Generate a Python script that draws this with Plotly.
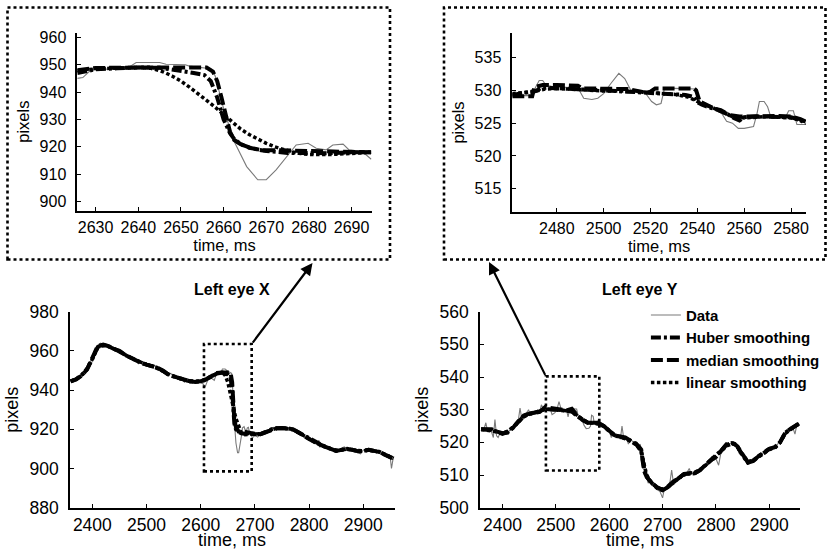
import plotly.graph_objects as go

# ---------------- data ----------------
# Left eye X, full record: raw data (time ms, pixels)
data_x = [(2360,944.0),(2365,945.0),(2370,945.5),(2375,946.5),(2380,948.0),(2385,949.0),(2390,951.0),
          (2395,953.0),(2400,957.0),(2405,960.0),(2410,963.0),(2415,964.0),(2420,963.0),(2425,963.5),
          (2430,962.0),(2435,962.0),(2440,961.5),(2445,960.0),(2450,960.5),(2455,958.5),(2460,958.0),
          (2465,957.0),(2470,956.5),(2475,955.0),(2480,955.5),(2485,953.5),(2490,954.5),(2495,953.0),
          (2500,952.5),(2505,953.5),(2510,952.0),(2515,952.5),(2520,951.0),(2525,951.5),(2530,949.5),
          (2535,950.0),(2540,948.0),(2545,948.5),(2550,946.5),(2555,947.5),(2560,945.5),(2565,946.5),
          (2570,944.0),(2575,945.0),(2580,943.5),(2585,944.5),(2590,943.8),(2595,944.8),(2600,944.0),
          (2605,943.0),(2608,941.5),(2612,945.0),(2615,946.5),(2620,946.0),(2625,945.0),(2628,947.5),
          (2630,948.3),(2635,948.5),(2638,949.3),(2640,950.8),(2645,950.8),(2648,950.0),(2651,949.5),
          (2655,949.0),(2657,948.5),(2658,946.0),(2660,934.0),(2662,924.0),(2665,913.0),(2667,909.5),
          (2668,908.0),(2670,908.0),(2672,911.0),(2675,916.4),(2677,920.7),(2680,921.3),(2682,919.5),
          (2684,918.9),(2686,920.7),(2688,921.0),(2689.5,918.9),(2692.5,918.3),(2695,915.5),(2700,917.0),
          (2705,916.0),(2710,917.5),(2715,918.0),(2720,919.0),(2725,919.5),(2730,920.5),(2735,921.0),
          (2740,920.0),(2745,921.0),(2750,920.5),(2755,920.0),(2760,921.0),(2765,920.0),(2770,919.5),
          (2775,919.0),(2780,918.0),(2785,917.0),(2790,916.5),(2795,915.0),(2800,915.5),(2805,914.0),
          (2810,913.0),(2815,912.0),(2818,914.5),(2820,911.0),(2825,911.5),(2830,910.5),(2835,911.0),
          (2840,910.0),(2845,909.5),(2850,908.5),(2855,909.5),(2860,910.5),(2865,911.0),(2870,910.0),
          (2875,909.0),(2880,910.5),(2885,909.0),(2890,908.0),(2895,907.5),(2900,909.5),(2905,909.0),
          (2910,910.0),(2915,909.0),(2920,909.5),(2925,908.5),(2930,908.0),(2935,907.5),(2940,906.5),
          (2945,906.0),(2950,905.0),(2952,900.0),(2955,905.0)]

# Left eye X, full record: smoothed curves on a common time grid
time_x = [2360,2370,2380,2390,2400,2405,2410,2420,2430,2440,
          2450,2460,2470,2480,2490,2500,2510,2520,2530,2540,
          2550,2560,2570,2580,2590,2600,2610,2620,2630,2640,
          2645,2650,2655,2658,2660,2662,2665,2670,2675,2680,
          2690,2700,2710,2720,2730,2740,2750,2760,2770,2780,
          2790,2800,2810,2820,2830,2840,2850,2860,2870,2880,
          2890,2900,2910,2920,2930,2940,2950,2956]
huber_x = [944.5,945.5,947.5,950.5,956.0,959.5,962.0,963.0,962.3,961.0,
           959.8,958.0,956.5,955.0,954.0,953.0,952.3,951.3,949.8,948.0,
           947.0,946.0,945.0,944.5,944.3,944.5,945.5,947.0,948.5,949.0,
           948.8,948.0,946.5,940.0,932.0,923.0,920.0,918.5,918.0,917.7,
           918.0,917.5,917.5,918.5,920.0,920.5,920.7,920.5,920.0,918.5,
           916.5,915.0,913.5,912.0,911.0,910.0,909.0,909.5,910.0,909.5,
           908.8,909.0,909.5,909.0,908.5,907.0,906.0,905.0]
median_x = [944.5,945.5,947.3,950.5,956.5,959.5,962.5,963.2,962.5,961.0,
            960.0,958.0,956.5,955.0,954.0,953.0,952.5,951.5,950.0,948.0,
            947.0,946.0,945.0,944.5,944.2,944.5,945.5,947.0,948.8,949.0,
            949.0,949.0,949.0,944.0,934.0,925.0,921.0,918.8,918.7,918.8,
            918.3,917.5,917.5,918.5,920.0,920.5,920.7,920.5,920.0,918.5,
            916.5,915.0,913.5,912.0,911.0,910.0,909.0,909.5,910.0,909.5,
            908.8,909.0,909.5,909.0,908.5,907.0,906.0,905.0]
linear_x = [944.6,945.6,947.6,951.0,955.8,959.0,961.6,962.7,962.2,961.0,
            959.7,958.1,956.6,955.2,954.0,953.1,952.3,951.2,949.8,948.2,
            947.0,946.0,945.1,944.6,944.4,944.6,945.6,947.1,948.5,949.0,
            947.5,944.0,938.5,934.5,931.8,929.0,925.5,921.3,918.2,917.2,
            917.6,917.6,917.8,918.7,919.9,920.5,920.6,920.4,919.8,918.4,
            916.6,915.0,913.5,912.1,911.0,910.0,909.3,909.5,909.8,909.4,
            909.0,909.0,909.3,909.0,908.4,907.2,906.0,905.2]

# Left eye X, zoomed window 2626-2695 ms
zoom_data_x = [(2625.7,945.0),(2627,945.3),(2628.5,947.5),(2630,948.3),(2635,948.5),(2638,949.3),
               (2639.5,950.8),(2645,950.8),(2646.5,950.2),(2651,950.0),(2652,949.5),(2655,949.0),
               (2657,948.5),(2658,946.0),(2660,934.0),(2662.3,922.5),(2665.4,912.8),(2668,908.0),
               (2670,908.0),(2672.3,911.6),(2674.7,916.4),(2677,920.7),(2679.8,921.3),(2681.7,919.5),
               (2684,918.9),(2685.6,920.7),(2688,921.0),(2689.4,918.9),(2692.5,918.3),(2694.6,915.5)]
zoom_huber_x = [(2625.7,947.0),(2628,947.8),(2630,948.3),(2635,948.7),(2640,949.0),(2645,948.9),
                (2648,948.3),(2650,947.8),(2653,947.0),(2655.5,946.2),(2657,944.0),(2658.5,938.0),
                (2660,930.0),(2661.5,925.0),(2662.5,922.8),(2664,921.0),(2666,919.8),(2668,919.0),
                (2670,918.5),(2675,917.8),(2680,917.6),(2685,917.7),(2690,918.0),(2694.6,918.0)]
zoom_median_x = [(2625.7,948.0),(2628,948.3),(2630,948.8),(2640,949.0),(2650,949.0),(2656,949.0),
                 (2657.5,947.5),(2658.5,944.0),(2659.5,938.0),(2660.5,931.0),(2661.5,925.5),
                 (2662.5,922.5),(2664,921.0),(2666,919.7),(2669,918.8),(2672,918.8),(2675,918.7),
                 (2680,918.8),(2685,918.6),(2690,918.3),(2694.6,918.0)]
zoom_linear_x = [(2625.7,947.8),(2630,948.5),(2635,948.8),(2640,949.0),(2643,948.7),(2646,947.3),
                 (2648,945.8),(2650,944.0),(2652,941.8),(2654,939.5),(2656,937.0),(2658,934.5),
                 (2660,931.8),(2662,929.0),(2664,926.5),(2666,924.5),(2668,922.8),(2670,921.3),
                 (2672,920.0),(2674,919.0),(2676,918.2),(2678,917.6),(2680,917.2),(2685,917.2),
                 (2690,917.6),(2694.6,918.0)]

# Left eye Y, full record: raw data
data_y = [(2360,524.0),(2365,523.8),(2369,526.0),(2372,523.5),(2376,524.2),(2380,523.0),(2383,521.5),
          (2386,527.0),(2389,522.0),(2392,521.5),(2396,523.0),(2400,522.5),(2405,523.5),(2410,522.8),
          (2415,524.0),(2420,524.8),(2425,525.5),(2430,527.0),(2433,530.5),(2436,527.5),(2440,528.5),
          (2445,529.0),(2449,530.0),(2452,528.5),(2457,529.5),(2462,529.0),(2466,530.0),(2470,529.5),
          (2473,531.5),(2476,530.5),(2480,530.5),(2485,530.5),(2490,530.0),(2493,528.5),(2498,529.0),
          (2502,530.0),(2506,532.5),(2510,530.2),(2515,530.0),(2520,530.0),(2523,527.8),(2526,530.3),
          (2530,530.3),(2535,530.3),(2539,530.2),(2542,528.0),(2546,527.5),(2550,526.5),(2553,525.2),
          (2557,524.2),(2562,524.3),(2565,525.0),(2567,528.3),(2570,528.0),(2572,525.8),(2577,525.8),
          (2580,527.0),(2582,524.8),(2586,524.8),(2590,525.0),(2595,524.5),(2600,523.5),(2604,521.5),
          (2608,522.5),(2612,521.5),(2617,522.0),(2621,521.0),(2624,525.0),(2627,521.5),(2632,521.5),
          (2636,519.5),(2640,521.0),(2645,520.0),(2650,519.5),(2655,518.0),(2658,519.5),(2661,516.5),
          (2664,513.5),(2667,510.0),(2670,509.5),(2673,507.5),(2677,508.5),(2680,507.0),(2685,506.5),
          (2690,505.5),(2695,505.0),(2700,503.0),(2703,505.5),(2707,506.0),(2711,507.0),(2714,508.0),
          (2717,511.5),(2720,508.0),(2725,508.5),(2730,509.5),(2735,509.0),(2740,510.0),(2745,510.5),
          (2750,512.0),(2753,510.5),(2758,510.5),(2763,510.5),(2768,511.0),(2773,511.5),(2778,512.5),
          (2783,513.0),(2788,514.0),(2792,515.7),(2796,514.5),(2800,515.0),(2805,513.0),(2809,516.5),
          (2814,517.5),(2818,519.0),(2822,519.5),(2826,519.5),(2830,519.8),(2836,519.5),(2840,518.0),
          (2844,516.5),(2848,517.0),(2852,515.5),(2856,514.0),(2860,513.5),(2865,514.0),(2870,514.5),
          (2875,515.0),(2880,516.0),(2885,516.5),(2890,517.0),(2895,517.5),(2900,518.0),(2905,518.3),
          (2910,518.2),(2915,519.5),(2920,520.5),(2925,521.5),(2930,523.0),(2935,523.5),(2940,524.5),
          (2945,524.0),(2948,522.5),(2951,525.0),(2955,525.8)]

# Left eye Y, full record: smoothed curves on a common time grid
time_y = [2360,2370,2380,2390,2400,2410,2420,2430,2440,2450,
          2460,2470,2480,2490,2500,2510,2520,2530,2540,2550,
          2560,2570,2580,2590,2600,2610,2620,2630,2640,2650,
          2655,2660,2663,2666,2670,2675,2680,2690,2700,2710,
          2720,2730,2740,2750,2760,2770,2780,2790,2800,2810,
          2820,2830,2835,2840,2850,2860,2870,2880,2890,2900,
          2910,2920,2930,2940,2950,2956]
huber_y = [524.0,524.0,523.8,523.3,522.6,523.2,524.5,526.3,528.0,528.7,
           529.0,529.5,530.2,530.2,530.0,529.8,529.7,529.5,528.0,527.0,
           526.0,526.0,525.8,525.0,523.5,522.0,521.8,521.3,520.5,519.5,
           518.5,517.5,514.5,511.5,509.5,508.3,507.5,506.0,505.3,506.3,
           507.8,509.0,510.3,510.5,510.5,511.5,513.0,514.3,515.8,517.5,
           519.3,519.8,519.5,518.8,516.0,513.8,514.3,515.8,516.8,518.0,
           518.3,520.0,523.0,524.2,525.3,525.8]
median_y = [524.0,524.0,524.0,523.3,522.8,523.0,524.5,526.5,528.2,528.8,
            529.0,529.3,530.8,530.5,530.3,530.2,529.8,530.3,528.3,526.8,
            526.0,526.0,526.0,525.0,523.5,522.2,521.8,521.5,520.5,519.7,
            518.8,517.8,514.0,511.0,509.5,508.5,507.5,506.2,505.5,506.5,
            508.0,509.0,510.3,510.5,510.5,511.5,513.0,514.5,515.5,517.5,
            519.5,519.8,519.5,518.8,516.0,513.8,514.5,515.8,517.0,518.0,
            518.5,520.0,523.0,524.2,525.3,525.8]
linear_y = [524.0,523.8,523.6,523.2,522.8,523.4,524.7,526.3,527.8,528.6,
            529.1,529.6,530.1,530.1,530.0,529.9,529.7,529.4,528.2,526.9,
            526.0,525.9,525.6,524.9,523.6,522.3,521.8,521.2,520.4,519.3,
            518.4,517.0,514.8,512.3,510.2,508.6,507.6,506.2,505.5,506.2,
            507.7,509.0,510.0,510.6,510.8,511.6,512.9,514.3,515.7,517.3,
            518.9,519.5,519.3,518.6,516.2,514.2,514.4,515.6,516.8,517.8,
            518.5,520.0,522.7,524.1,525.2,525.7]

# Left eye Y, zoomed window 2461-2586 ms
zoom_data_y = [(2461,529.2),(2469.3,529.2),(2471,530.5),(2472.5,531.5),(2474,531.5),(2475.5,530.7),
               (2480,530.5),(2485,530.5),(2489,530.4),(2491.5,528.8),(2495,528.6),(2497.5,528.8),
               (2500,529.5),(2503,531.0),(2506.5,532.6),(2509,531.8),(2511.5,530.1),(2515,530.0),
               (2518,529.5),(2520.5,528.3),(2522.5,527.8),(2524.5,528.0),(2526,530.3),(2530,530.3),
               (2535,530.3),(2539.5,530.2),(2541,528.3),(2545,527.5),(2549.5,527.0),(2552.5,525.3),
               (2555,525.0),(2557.5,524.2),(2560,524.2),(2564,524.5),(2565.5,526.5),(2566.5,528.3),
               (2568.5,528.3),(2570,527.5),(2571.5,525.8),(2575,525.8),(2577.5,525.8),(2579,526.9),
               (2581,526.9),(2582.5,524.8),(2586.4,524.8)]
zoom_huber_y = [(2461,529.3),(2465,529.5),(2469,529.8),(2471,529.9),(2473,530.3),(2476,530.4),
                (2480,530.3),(2490,530.2),(2500,530.0),(2510,529.8),(2520,529.6),(2530,529.5),
                (2535,529.3),(2538.5,529.0),(2540,528.2),(2542,527.8),(2546,527.3),(2550,527.0),
                (2553,526.3),(2556,525.7),(2558,525.4),(2560,525.9),(2565,526.0),(2570,526.0),
                (2575,526.0),(2580,525.9),(2583,525.6),(2586.4,525.0)]
zoom_median_y = [(2461,529.1),(2469.5,529.1),(2470.5,530.5),(2474,530.8),(2480,530.8),(2489,530.7),
                 (2491,530.3),(2500,530.3),(2510,530.2),(2516,529.8),(2518,529.6),(2520,529.8),
                 (2522,530.3),(2530,530.3),(2538.5,530.3),(2539.5,530.0),(2541,528.3),(2545,527.6),
                 (2550,526.8),(2554,526.2),(2558,526.0),(2565,526.1),(2575,526.1),(2580,526.0),
                 (2584,525.6),(2586.4,525.2)]
zoom_linear_y = [(2461,529.5),(2470,529.8),(2475,530.2),(2480,530.3),(2490,530.1),(2500,529.9),
                 (2510,529.9),(2520,529.7),(2530,529.4),(2536,529.0),(2540,528.3),(2545,527.6),
                 (2550,526.8),(2555,526.0),(2560,525.8),(2570,526.0),(2580,525.8),(2586.4,525.2)]

# ticks / labels
ticks_tl_x = [2630, 2640, 2650, 2660, 2670, 2680, 2690]
ticks_tl_y = [900, 910, 920, 930, 940, 950, 960]
ticks_tr_x = [2480, 2500, 2520, 2540, 2560, 2580]
ticks_tr_y = [515, 520, 525, 530, 535]
ticks_bl_x = [2400, 2500, 2600, 2700, 2800, 2900]
ticks_bl_y = [880, 900, 920, 940, 960, 980]
ticks_br_x = [2400, 2500, 2600, 2700, 2800, 2900]
ticks_br_y = [500, 510, 520, 530, 540, 550, 560]
series_names = ["Data", "Huber smoothing", "median smoothing", "linear smoothing"]
panel_titles = ["Left eye X", "Left eye Y"]
x_title = "time, ms"
y_title = "pixels"
# zoom windows marked on the full records: (x0, x1, y0, y1)
window_x = (2606, 2694, 898.5, 963.5)
window_y = (2481.5, 2581.5, 511.4, 540.2)

# ---------------- layout / styling ----------------
W, H = 830, 552
FONT = "Liberation Sans, Arial, Helvetica, sans-serif"

# "xtitle": True -> x title drawn by the axis; otherwise placed as free text at the page bottom
PANELS = {
    "tl": dict(ax="", xd=[0.0931, 0.4478], yd=[0.6183, 0.9408], xr=[2625.7, 2694.7], yr=[896.7, 961.7],
               xt=ticks_tl_x, yt=ticks_tl_y, tf=16, af=16.5, xtitle=True),
    "tr": dict(ax="2", xd=[0.6172, 0.9711], yd=[0.6165, 0.9397], xr=[2461.0, 2586.4], yr=[511.5, 538.7],
               xt=ticks_tr_x, yt=ticks_tr_y, tf=16, af=16.5, xtitle=True),
    "bl": dict(ax="3", xd=[0.0843, 0.4759], yd=[0.0803, 0.4353], xr=[2358.7, 2958.5], yr=[880, 980],
               xt=ticks_bl_x, yt=ticks_bl_y, tf=17.5, af=18, xtitle=False),
    "br": dict(ax="4", xd=[0.5783, 0.9639], yd=[0.0803, 0.4353], xr=[2358.0, 2957.5], yr=[500, 560],
               xt=ticks_br_x, yt=ticks_br_y, tf=17.5, af=18, xtitle=False),
}

STYLE = [
    dict(color="#7a7a7a", width=1.1, dash="solid"),
    dict(color="black", width=4, dash="10px,3px,3px,3px"),
    dict(color="black", width=4, dash="12px,4px"),
    dict(color="black", width=3.5, dash="3.5px,2.5px"),
]

fig = go.Figure()


def unzip(pairs):
    return [p[0] for p in pairs], [p[1] for p in pairs]


def add_series(panel, xs_list, ys_list, legend):
    ax = PANELS[panel]["ax"]
    for i, (xs, ys) in enumerate(zip(xs_list, ys_list)):
        fig.add_trace(go.Scatter(
            x=xs, y=ys, mode="lines", name=series_names[i],
            line=STYLE[i], xaxis="x" + ax, yaxis="y" + ax,
            showlegend=legend, legendgroup=series_names[i], hoverinfo="skip"))


# panels
zx = [unzip(zoom_data_x), unzip(zoom_huber_x), unzip(zoom_median_x), unzip(zoom_linear_x)]
add_series("tl", [p[0] for p in zx], [p[1] for p in zx], False)
zy = [unzip(zoom_data_y), unzip(zoom_huber_y), unzip(zoom_median_y), unzip(zoom_linear_y)]
add_series("tr", [p[0] for p in zy], [p[1] for p in zy], False)
dxt, dxv = unzip(data_x)
add_series("bl", [dxt, time_x, time_x, time_x], [dxv, huber_x, median_x, linear_x], False)
dyt, dyv = unzip(data_y)
add_series("br", [dyt, time_y, time_y, time_y], [dyv, huber_y, median_y, linear_y], True)

layout = dict(
    width=W, height=H, autosize=False,
    margin=dict(l=0, r=0, t=0, b=0, autoexpand=False),
    paper_bgcolor="white", plot_bgcolor="white",
    font=dict(family=FONT, color="black"),
    legend=dict(x=0.7782, y=0.4588, xanchor="left", yanchor="top",
                bgcolor="rgba(0,0,0,0)", borderwidth=0, tracegroupgap=0,
                itemwidth=30,
                font=dict(family=FONT, size=15, color="black", weight="bold")),
    shapes=[], annotations=[],
)

for key, p in PANELS.items():
    ax = p["ax"]
    common = dict(showline=True, linecolor="black", linewidth=1.5, ticks="inside", ticklen=4,
                  tickwidth=1.2, tickcolor="black", showgrid=False, zeroline=False,
                  automargin=False,
                  tickfont=dict(family=FONT, size=p["tf"], color="black"))
    xaxis = dict(common, domain=p["xd"], range=p["xr"], anchor="y" + ax,
                 tickmode="array", tickvals=p["xt"], ticklabelstandoff=1)
    if p["xtitle"]:
        xaxis["title"] = dict(text=x_title, font=dict(family=FONT, size=p["af"]), standoff=2)
    else:
        layout["annotations"].append(dict(
            x=(p["xd"][0] + p["xd"][1]) / 2, y=0, xref="paper", yref="paper",
            text=x_title, showarrow=False, xanchor="center", yanchor="bottom",
            font=dict(family=FONT, size=p["af"], color="black")))
    layout["xaxis" + ax] = xaxis
    layout["yaxis" + ax] = dict(common, domain=p["yd"], range=p["yr"], anchor="x" + ax,
                                tickmode="array", tickvals=p["yt"], ticklabelstandoff=6,
                                title=dict(text=y_title, font=dict(family=FONT, size=p["af"]), standoff=6))


def to_px(panel, xv, yv):
    p = PANELS[panel]
    fx = p["xd"][0] + (xv - p["xr"][0]) / (p["xr"][1] - p["xr"][0]) * (p["xd"][1] - p["xd"][0])
    fy = p["yd"][0] + (yv - p["yr"][0]) / (p["yr"][1] - p["yr"][0]) * (p["yd"][1] - p["yd"][0])
    return fx * W, (1 - fy) * H


# dotted frames around the zoomed panels
for x0, x1 in [(7.5, 390), (444, 825.5)]:
    layout["shapes"].append(dict(type="rect", xref="paper", yref="paper",
                                 x0=x0 / W, x1=x1 / W, y0=1 - 259.5 / H, y1=1 - 7.5 / H,
                                 line=dict(color="black", width=2.6, dash="dot")))

# zoom windows on the full records
for panel, win in [("bl", window_x), ("br", window_y)]:
    ax = PANELS[panel]["ax"]
    layout["shapes"].append(dict(type="rect", xref="x" + ax, yref="y" + ax,
                                 x0=win[0], x1=win[1], y0=win[2], y1=win[3],
                                 line=dict(color="black", width=2.6, dash="dot")))

# arrows from zoom windows to the zoomed panels
tips = [(312.5, 263.0), (489.0, 262.0)]
tails = [to_px("bl", window_x[1], window_x[3]), to_px("br", window_y[0], window_y[3])]
for (tx, ty), (sx, sy) in zip(tips, tails):
    layout["annotations"].append(dict(
        x=tx / W, y=1 - ty / H, xref="paper", yref="paper", text="", showarrow=True,
        ax=sx - tx, ay=sy - ty, arrowhead=2, arrowsize=1.1, arrowwidth=2.2, arrowcolor="black",
        standoff=0, startstandoff=0))

# panel titles
for txt, cx in zip(panel_titles, [232, 640]):
    layout["annotations"].append(dict(
        x=cx / W, y=1 - 289 / H, xref="paper", yref="paper", text="<b>%s</b>" % txt,
        showarrow=False, font=dict(family=FONT, size=16, color="black"),
        xanchor="center", yanchor="middle"))

fig.update_layout(layout)
# remove the browser's default 8px page margin so the 830x552 figure fills the window
fig.write_html("out.html", config={"displayModeBar": False},
               post_script="document.body.style.margin='0';document.body.style.overflow='hidden';")
